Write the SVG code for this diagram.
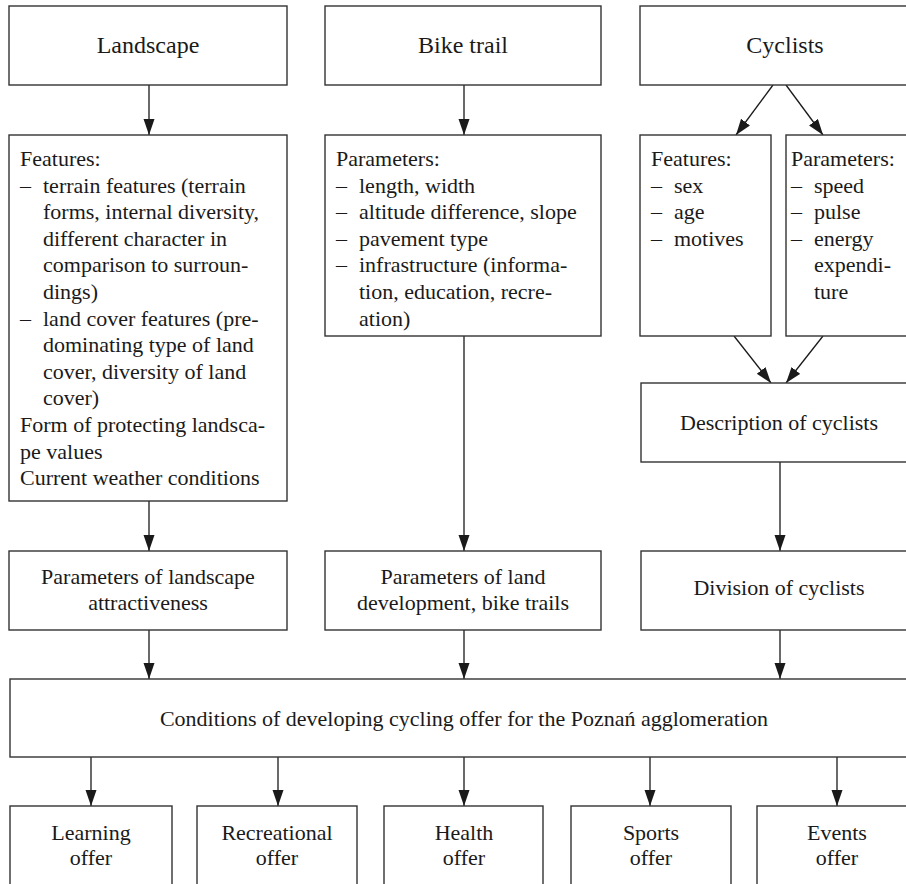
<svg xmlns="http://www.w3.org/2000/svg" width="906" height="884" viewBox="0 0 906 884">
<style>
.box{fill:#fff;stroke:#333;stroke-width:1.4}
text{font-family:"Liberation Serif","Times New Roman",serif;font-size:22px;fill:#1a1a1a}
.c{text-anchor:middle}
.big{font-size:24px}
.ln{stroke:#1a1a1a;stroke-width:1.3;fill:none;marker-end:url(#ah)}
</style>
<defs>
<marker id="ah" markerUnits="userSpaceOnUse" markerWidth="16" markerHeight="12" refX="16" refY="5.5" orient="auto">
<path d="M0,0 L16,5.5 L0,11 z" fill="#1a1a1a"/>
</marker>
</defs>
<rect width="906" height="884" fill="#fff"/>
<g id="connectors">
<line class="ln" x1="149" y1="85" x2="149" y2="135"/>
<line class="ln" x1="464" y1="85" x2="464" y2="135"/>
<line class="ln" x1="773" y1="85" x2="736" y2="135"/>
<line class="ln" x1="786" y1="85" x2="823" y2="135"/>
<line class="ln" x1="734" y1="336" x2="771" y2="383"/>
<line class="ln" x1="823" y1="336" x2="786" y2="383"/>
<line class="ln" x1="149" y1="501" x2="149" y2="551"/>
<line class="ln" x1="464" y1="336" x2="464" y2="551"/>
<line class="ln" x1="780" y1="462" x2="780" y2="551"/>
<line class="ln" x1="149" y1="630" x2="149" y2="679"/>
<line class="ln" x1="464" y1="630" x2="464" y2="679"/>
<line class="ln" x1="780" y1="630" x2="780" y2="679"/>
<line class="ln" x1="91" y1="757" x2="91" y2="806"/>
<line class="ln" x1="278" y1="757" x2="278" y2="806"/>
<line class="ln" x1="464" y1="757" x2="464" y2="806"/>
<line class="ln" x1="650" y1="757" x2="650" y2="806"/>
<line class="ln" x1="837" y1="757" x2="837" y2="806"/>
</g>
<g id="landscape"><rect class="box" x="9" y="6" width="278" height="79"/><text class="c big" x="148" y="53">Landscape</text></g>
<g id="bike-trail"><rect class="box" x="325" y="6" width="276" height="79"/><text class="c big" x="463" y="53">Bike trail</text></g>
<g id="cyclists"><rect class="box" x="640" y="6" width="290" height="79"/><text class="c big" x="785" y="53">Cyclists</text></g>
<g id="landscape-features"><rect class="box" x="9" y="135" width="278" height="366"/>
<text x="20" y="166">Features:</text>
<text x="20" y="192.6">–</text><text x="43" y="192.6">terrain features (terrain</text>
<text x="43" y="219.2">forms, internal diversity,</text>
<text x="43" y="245.8">different character in</text>
<text x="43" y="272.4">comparison to surroun-</text>
<text x="43" y="299">dings)</text>
<text x="20" y="325.6">–</text><text x="43" y="325.6">land cover features (pre-</text>
<text x="43" y="352.2">dominating type of land</text>
<text x="43" y="378.8">cover, diversity of land</text>
<text x="43" y="405.4">cover)</text>
<text x="20" y="432">Form of protecting landsca-</text>
<text x="20" y="458.6">pe values</text>
<text x="20" y="485.2">Current weather conditions</text>
</g>
<g id="bike-parameters"><rect class="box" x="325" y="135" width="276" height="201"/>
<text x="336" y="166">Parameters:</text>
<text x="336" y="192.6">–</text><text x="359" y="192.6">length, width</text>
<text x="336" y="219.2">–</text><text x="359" y="219.2">altitude difference, slope</text>
<text x="336" y="245.8">–</text><text x="359" y="245.8">pavement type</text>
<text x="336" y="272.4">–</text><text x="359" y="272.4">infrastructure (informa-</text>
<text x="359" y="299">tion, education, recre-</text>
<text x="359" y="325.6">ation)</text>
</g>
<g id="cyclist-features"><rect class="box" x="640" y="135" width="131" height="201"/>
<text x="651" y="166">Features:</text>
<text x="651" y="192.6">–</text><text x="674" y="192.6">sex</text>
<text x="651" y="219.2">–</text><text x="674" y="219.2">age</text>
<text x="651" y="245.8">–</text><text x="674" y="245.8">motives</text>
</g>
<g id="cyclist-parameters"><rect class="box" x="786" y="135" width="144" height="201"/>
<text x="791" y="166">Parameters:</text>
<text x="791" y="192.6">–</text><text x="814" y="192.6">speed</text>
<text x="791" y="219.2">–</text><text x="814" y="219.2">pulse</text>
<text x="791" y="245.8">–</text><text x="814" y="245.8">energy</text>
<text x="814" y="272.4">expendi-</text>
<text x="814" y="299">ture</text>
</g>
<g id="description"><rect class="box" x="641" y="383" width="289" height="79"/><text class="c" x="779" y="430">Description of cyclists</text></g>
<g id="landscape-attractiveness"><rect class="box" x="9" y="551" width="278" height="79"/><text class="c" x="148" y="584">Parameters of landscape</text><text class="c" x="148" y="610">attractiveness</text></g>
<g id="land-development"><rect class="box" x="325" y="551" width="276" height="79"/><text class="c" x="463" y="584">Parameters of land</text><text class="c" x="463" y="610">development, bike trails</text></g>
<g id="division"><rect class="box" x="641" y="551" width="289" height="79"/><text class="c" x="779" y="595">Division of cyclists</text></g>
<g id="conditions"><rect class="box" x="10" y="679" width="920" height="78"/><text class="c" x="464" y="726">Conditions of developing cycling offer for the Poznań agglomeration</text></g>
<g id="learning"><rect class="box" x="10" y="806" width="162" height="100"/><text class="c" x="91" y="840">Learning</text><text class="c" x="91" y="865">offer</text></g>
<g id="recreational"><rect class="box" x="197" y="806" width="160" height="100"/><text class="c" x="277" y="840">Recreational</text><text class="c" x="277" y="865">offer</text></g>
<g id="health"><rect class="box" x="384" y="806" width="159" height="100"/><text class="c" x="464" y="840">Health</text><text class="c" x="464" y="865">offer</text></g>
<g id="sports"><rect class="box" x="571" y="806" width="160" height="100"/><text class="c" x="651" y="840">Sports</text><text class="c" x="651" y="865">offer</text></g>
<g id="events"><rect class="box" x="757" y="806" width="160" height="100"/><text class="c" x="837" y="840">Events</text><text class="c" x="837" y="865">offer</text></g>
</svg>
